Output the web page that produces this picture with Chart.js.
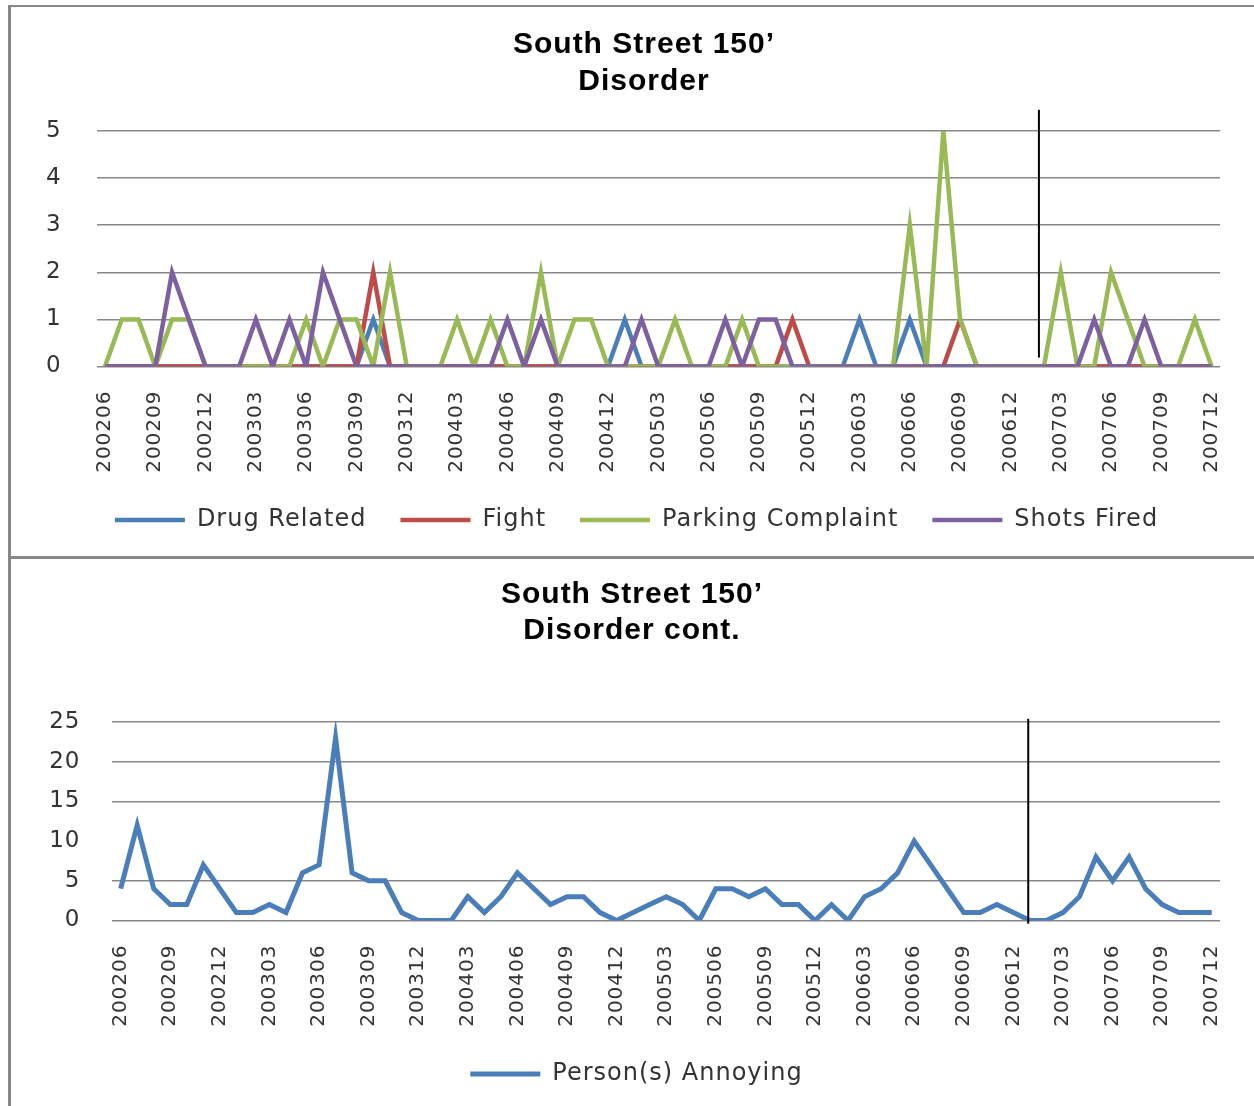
<!DOCTYPE html>
<html>
<head>
<meta charset="utf-8">
<script src="https://cdn.jsdelivr.net/npm/chart.js@4.4.1/dist/chart.umd.min.js"></script>
<style>
  body { margin: 0; background: #fff; }
  .frame { position: absolute; left: 8px; top: 5px; width: 1246px; height: 1101px; border-top: 2px solid #878787; border-left: 3px solid #878787; }
  .sep { position: absolute; left: 8px; top: 556px; width: 1246px; height: 3px; background: #878787; }
  .box { position: absolute; left: 12px; width: 1242px; height: 546px; }
</style>
</head>
<body>
<div class="frame"></div>
<div class="sep"></div>
<div class="box" style="top:9px"><canvas id="topChart"></canvas></div>
<div class="box" style="top:560px"><canvas id="bottomChart"></canvas></div>
<script>
const months = [
  '200206','200207','200208','200209','200210','200211','200212','200301','200302','200303','200304','200305',
  '200306','200307','200308','200309','200310','200311','200312','200401','200402','200403','200404','200405',
  '200406','200407','200408','200409','200410','200411','200412','200501','200502','200503','200504','200505',
  '200506','200507','200508','200509','200510','200511','200512','200601','200602','200603','200604','200605',
  '200606','200607','200608','200609','200610','200611','200612','200701','200702','200703','200704','200705',
  '200706','200707','200708','200709','200710','200711','200712'
];

const drugRelated = [
  0,0,0,0,0,0,0,0,0,0,0,0,
  0,0,0,0,1,0,0,0,0,0,0,0,
  0,0,0,0,0,0,0,1,0,0,0,0,
  0,0,0,0,0,0,0,0,0,1,0,0,
  1,0,0,0,0,0,0,0,0,0,0,0,
  0,0,0,0,0,0,0
];
const fight = [
  0,0,0,0,0,0,0,0,0,0,0,0,
  0,0,0,0,2,0,0,0,0,0,0,0,
  0,0,0,0,0,0,0,0,0,0,0,0,
  0,0,0,0,0,1,0,0,0,0,0,0,
  0,0,0,1,0,0,0,0,0,0,0,0,
  0,0,0,0,0,0,0
];
const parkingComplaint = [
  0,1,1,0,1,1,0,0,0,0,0,0,
  1,0,1,1,0,2,0,0,0,1,0,1,
  0,0,2,0,1,1,0,0,0,0,1,0,
  0,0,1,0,0,0,0,0,0,0,0,0,
  3,0,5,1,0,0,0,0,0,2,0,0,
  2,1,0,0,0,1,0
];
const shotsFired = [
  0,0,0,0,2,1,0,0,0,1,0,1,
  0,2,1,0,0,0,0,0,0,0,0,0,
  1,0,1,0,0,0,0,0,1,0,0,0,
  0,1,0,1,1,0,0,0,0,0,0,0,
  0,0,0,0,0,0,0,0,0,0,0,1,
  0,0,1,0,0,0,0
];
const personsAnnoying = [
  4,12,4,2,2,7,4,1,1,2,1,6,
  7,23,6,5,5,1,0,0,0,3,1,3,
  6,4,2,3,3,1,0,1,2,3,2,0,
  4,4,3,4,2,2,0,2,0,3,4,6,
  10,7,4,1,1,2,1,0,0,1,3,8,
  5,8,4,2,1,1,1
];

// black divider line in each chart (category index, y range)
const topMarker = { at: 55.7, from: 0.19, to: 5.45 };
const bottomMarker = { at: 54.9, from: -0.4, to: 25.4 };

const spacing = {
  id: 'spacing',
  beforeLayout(chart) { chart.ctx.letterSpacing = '1px'; },
  beforeDraw(chart) { chart.ctx.letterSpacing = '1px'; }
};

// legend and title are centred a bit right of the canvas middle
const shift = {
  id: 'shift',
  afterLayout(chart, args, opts) {
    chart.legend.left += 41;
    chart.titleBlock.left += opts.title;
  }
};

const marker = {
  id: 'marker',
  afterDatasetsDraw(chart, args, opts) {
    const ctx = chart.ctx, x = chart.scales.x, y = chart.scales.y;
    const px = x.getPixelForValue(opts.at);
    ctx.save();
    ctx.strokeStyle = '#000';
    ctx.lineWidth = 2;
    ctx.beginPath();
    ctx.moveTo(px, y.getPixelForValue(opts.from));
    ctx.lineTo(px, y.getPixelForValue(opts.to));
    ctx.stroke();
    ctx.restore();
  }
};

function makeOptions(title, titleLh, titlePad, titleShift, yWidth, yPad, yMax, yStep, mk, hideTen, bottomPad) {
  return {
    responsive: true,
    maintainAspectRatio: false,
    animation: false,
    layout: { padding: { left: 0, right: 34, top: 0, bottom: bottomPad } },
    plugins: {
      title: {
        display: true,
        text: title,
        color: '#000',
        font: { family: 'Liberation Sans', size: 30, weight: 'bold', lineHeight: titleLh + 'px' },
        padding: titlePad
      },
      legend: {
        position: 'bottom',
        labels: {
          usePointStyle: true,
          pointStyle: 'line',
          pointStyleWidth: 70,
          padding: 34,
          color: '#333',
          font: { family: 'DejaVu Sans', size: 24 },
          sort: (a, b) => a.datasetIndex - b.datasetIndex
        }
      },
      tooltip: { enabled: false },
      marker: mk,
      shift: { title: titleShift }
    },
    scales: {
      x: {
        offset: true,
        grid: { display: false, drawTicks: false },
        border: { display: false },
        ticks: {
          autoSkip: false,
          minRotation: 90,
          maxRotation: 90,
          padding: 24,
          color: '#333',
          font: { family: 'DejaVu Sans', size: 20 },
          callback: function (val, i) { return i % 3 === 0 ? this.getLabelForValue(val) : ''; }
        },
        afterFit: s => { s.height = 107.5; s.paddingLeft = 0; s.paddingRight = 0; }
      },
      y: {
        min: 0,
        max: yMax,
        grid: {
          drawTicks: false,
          lineWidth: 1.5,
          color: c => (hideTen && c.tick && c.tick.value === 10) ? 'rgba(0,0,0,0)' : '#878787'
        },
        border: { display: false },
        ticks: {
          stepSize: yStep,
          padding: yPad,
          color: '#333',
          font: { family: 'DejaVu Sans', size: 23 }
        },
        afterFit: s => { s.width = yWidth; }
      }
    }
  };
}

function line(label, data, color, order, width) {
  return { label: label, data: data, borderColor: color, backgroundColor: color, borderWidth: width,
    pointRadius: 0, tension: 0, order: order };
}

new Chart(document.getElementById('topChart'), {
  type: 'line',
  data: {
    labels: months,
    datasets: [
      line('Drug Related', drugRelated, '#4A7EBB', 4, 4.5),
      line('Fight', fight, '#BE4B48', 3, 4.5),
      line('Parking Complaint', parkingComplaint, '#98B954', 2, 4.5),
      line('Shots Fired', shotsFired, '#7D60A0', 1, 4.5)
    ]
  },
  options: makeOptions(['South Street 150\u2019', 'Disorder'], 37, { top: 17.5, bottom: 30.5 }, 56, 84.6, 35, 5, 1, topMarker, false, 13),
  plugins: [spacing, shift, marker]
});

new Chart(document.getElementById('bottomChart'), {
  type: 'line',
  data: {
    labels: months,
    datasets: [
      line('Person(s) Annoying', personsAnnoying, '#4A7EBB', 1, 5)
    ]
  },
  options: makeOptions(['South Street 150\u2019', 'Disorder cont.'], 36, { top: 17, bottom: 73 }, 32, 100.4, 32, 25, 5, bottomMarker, true, 10),
  plugins: [spacing, shift, marker]
});
</script>
</body>
</html>
